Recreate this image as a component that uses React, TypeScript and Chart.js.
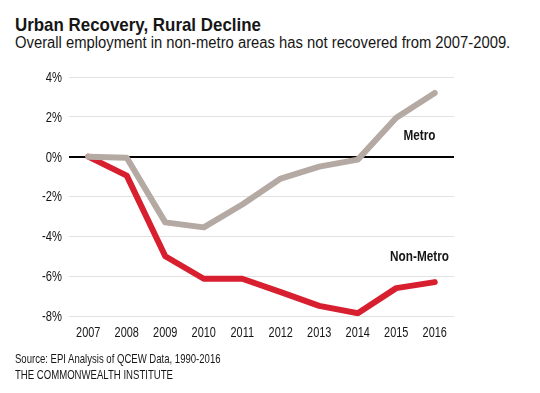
import React, { useEffect, useRef } from "react";
import { Chart, registerables } from "chart.js";

Chart.register(...registerables);

const years = ["2007", "2008", "2009", "2010", "2011", "2012", "2013", "2014", "2015", "2016"];
const metro = [0, -0.05, -3.3, -3.55, -2.4, -1.1, -0.5, -0.15, 1.95, 3.2];
const nonMetro = [0, -0.95, -5.0, -6.13, -6.13, -6.8, -7.49, -7.86, -6.6, -6.3];
const seriesNames = ["Metro", "Non-Metro"];
const labelValues = [1.05, -5.05];
const yTicks = [-8, -6, -4, -2, 0, 2, 4];
const yTickLabels = ["-8%", "-6%", "-4%", "-2%", "0%", "2%", "4%"];

const FONT = '"Liberation Sans", Arial, sans-serif';
const METRO_COLOR = "#b4a9a3";
const NON_METRO_COLOR = "#d71f2f";
const TEXT = "#161616";

function drawNarrow(ctx: any, text: string, x: number, y: number, sx: number, align: string) {
  ctx.save();
  ctx.translate(x, y);
  ctx.scale(sx, 1);
  ctx.textAlign = align;
  ctx.textBaseline = "middle";
  ctx.fillText(text, 0, 0);
  ctx.restore();
}

const textPlugin = {
  id: "narrowText",
  afterDatasetsDraw(chart: any) {
    const { ctx, scales, chartArea } = chart;
    const xs = scales.x;
    const ys = scales.y;
    ctx.save();
    ctx.fillStyle = TEXT;
    ctx.font = `14px ${FONT}`;
    yTicks.forEach((v, i) => {
      drawNarrow(ctx, yTickLabels[i], chartArea.left - 7, ys.getPixelForValue(v) + 1, 0.8, "right");
    });
    years.forEach((y, i) => {
      drawNarrow(ctx, y, xs.getPixelForValue(i), chartArea.bottom + 17.5, 0.78, "center");
    });
    ctx.font = `bold 14px ${FONT}`;
    const cx = (xs.getPixelForValue(8) + xs.getPixelForValue(9)) / 2 + 4;
    seriesNames.forEach((name, i) => {
      drawNarrow(ctx, name, cx, ys.getPixelForValue(labelValues[i]), 0.84, "center");
    });
    ctx.restore();
  },
};

export default function App() {
  const canvasRef = useRef<HTMLCanvasElement>(null);

  useEffect(() => {
    const chart = new Chart(canvasRef.current!, {
      type: "line",
      data: {
        labels: years,
        datasets: [
          {
            label: seriesNames[0],
            data: metro,
            borderColor: METRO_COLOR,
            backgroundColor: METRO_COLOR,
            borderWidth: 6,
            pointRadius: 0,
            tension: 0,
            borderCapStyle: "round",
            borderJoinStyle: "round",
          },
          {
            label: seriesNames[1],
            data: nonMetro,
            borderColor: NON_METRO_COLOR,
            backgroundColor: NON_METRO_COLOR,
            borderWidth: 6,
            pointRadius: 0,
            tension: 0,
            borderCapStyle: "round",
            borderJoinStyle: "round",
          },
        ],
      },
      options: {
        animation: false,
        responsive: false,
        maintainAspectRatio: false,
        layout: { padding: { left: 0, right: 86, top: 17, bottom: 0 } },
        plugins: {
          legend: { display: false },
          tooltip: { enabled: false },
          title: { display: false },
        },
        scales: {
          x: {
            offset: true,
            grid: { display: false, drawTicks: false },
            border: { display: false },
            ticks: { display: false, autoSkip: false },
            afterFit(scale: any) {
              scale.height = 44;
            },
          },
          y: {
            min: -8,
            max: 4,
            afterBuildTicks(scale: any) {
              scale.ticks = yTicks.map((v) => ({ value: v }));
            },
            grid: {
              drawTicks: false,
              color: (c: any) => (c.tick && c.tick.value === 0 ? "#000" : "#e2e2e2"),
              lineWidth: (c: any) => (c.tick && c.tick.value === 0 ? 2 : 1),
            },
            border: { display: false },
            ticks: { display: false },
            afterFit(scale: any) {
              scale.width = 69;
            },
          },
        },
      },
      plugins: [textPlugin],
    } as any);
    return () => chart.destroy();
  }, []);

  const line = (extra: any) => ({
    position: "absolute" as const,
    left: 15,
    whiteSpace: "nowrap" as const,
    transformOrigin: "0 0",
    ...extra,
  });

  return (
    <div style={{ position: "absolute", left: 0, top: 0, width: 540, height: 393, background: "#fff", fontFamily: FONT, color: TEXT }}>
      <div style={line({ top: 13.5, fontSize: 19, fontWeight: "bold", lineHeight: "21.2px", transform: "scaleX(0.89)" })}>
        Urban Recovery, Rural Decline
      </div>
      <div style={line({ top: 33.8, fontSize: 16, lineHeight: "18px", transform: "scaleX(0.925)" })}>
        Overall employment in non-metro areas has not recovered from 2007-2009.
      </div>
      <canvas ref={canvasRef} width={540} height={300} style={{ position: "absolute", left: 0, top: 60, width: 540, height: 300 }} />
      <div style={line({ top: 350.5, fontSize: 13, lineHeight: "16px", transform: "scaleX(0.735)" })}>
        Source: EPI Analysis of QCEW Data, 1990-2016
      </div>
      <div style={line({ top: 366.5, fontSize: 13, lineHeight: "16px", transform: "scaleX(0.737)" })}>
        THE COMMONWEALTH INSTITUTE
      </div>
    </div>
  );
}
